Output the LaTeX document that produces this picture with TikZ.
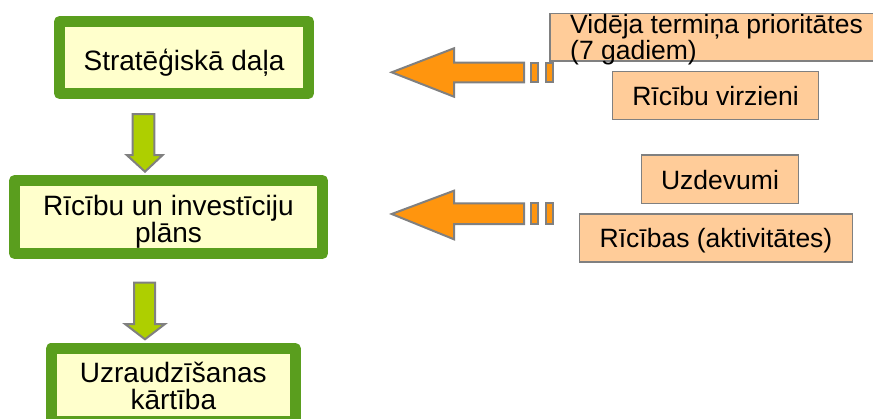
\documentclass[tikz,border=0pt]{standalone}
\usepackage{fontspec}
\setmainfont{Liberation Sans}
\definecolor{framegreen}{HTML}{5A9E1E}
\definecolor{paleyellow}{HTML}{FFFFCC}
\definecolor{salmon}{HTML}{FFCC99}
\definecolor{arroworange}{HTML}{FF950E}
\definecolor{arrowlime}{HTML}{AECF00}
\definecolor{edgegray}{HTML}{808080}
\tikzset{
  partbox/.style={draw=framegreen, fill=paleyellow, line width=11pt, line join=round,
    inner sep=0pt, align=center, font=\fontsize{28}{27}\selectfont},
  parttext/.style={inner sep=0pt, align=center, font=\fontsize{28}{27}\selectfont},
  itembox/.style={draw=edgegray, fill=salmon, line width=1.5pt, inner sep=0pt,
    text height=20pt, text depth=0pt, font=\fontsize{26.5}{27}\selectfont},
  blockarrow/.style={draw=edgegray, line width=2pt, line join=miter}
}
\begin{document}
\begin{tikzpicture}[x=1pt,y=-1pt]
            \useasboundingbox (0,0) rectangle (873,418);

            % Drawing the three parts
            \node [partbox, minimum width=249pt, minimum height=72pt, text height=25pt, text depth=0pt]
              (strat) at (184,57.5) {Stratēģiskā daļa};%
            \node [partbox, minimum width=308pt, minimum height=73pt] (plan) at (168.5,217) {};%
            \node [parttext] (plantext) at ([yshift=-5pt]plan.center) {Rīcību un investīciju\\plāns};%
            \node [partbox, minimum width=244pt, minimum height=73pt] (uzr) at (173.3,385) {};%
            \node [parttext] (uzrtext) at ([yshift=-1pt]uzr.center) {Uzraudzīšanas\\kārtība};%

            % Drawing arrow strat -> plan
            \draw [blockarrow, fill=arrowlime] (132.7,114) -- (154.3,114) -- (154.3,155) -- (162.7,155)
              -- (145,171.7) -- (126.7,155) -- (132.7,155) -- cycle;%

            % Drawing arrow plan -> uzr
            \draw [blockarrow, fill=arrowlime] (134,282.7) -- (155,282.7) -- (155,324) -- (165,324)
              -- (145,339.3) -- (125,324) -- (134,324) -- cycle;%

            % Drawing arrow to strat
            \draw [blockarrow, fill=arroworange] (391.7,72.3) -- (454,48.3) -- (454,62.7) -- (524,62.7)
              -- (524,82.3) -- (454,82.3) -- (454,96.7) -- cycle;%
            \draw [blockarrow, fill=arroworange] (531,62.7) rectangle (538.3,82.3);%
            \draw [blockarrow, fill=arroworange] (546,62.7) rectangle (553.3,82.3);%

            % Drawing arrow to plan
            \draw [blockarrow, fill=arroworange] (391.7,214) -- (454,190.7) -- (454,203.3) -- (524,203.3)
              -- (524,224) -- (454,224) -- (454,239.3) -- cycle;%
            \draw [blockarrow, fill=arroworange] (531,203.3) rectangle (538.3,224);%
            \draw [blockarrow, fill=arroworange] (546,203.3) rectangle (553.3,224);%

            % Drawing the items of strat
            \node [itembox, minimum width=330pt, minimum height=47.7pt] (prio) at (715,37.2) {};%
            \node [anchor=west, align=left, inner sep=0pt, font=\fontsize{26.5}{26.7}\selectfont]
              (priotext) at (570,39.7) {Vidēja termiņa prioritātes\\(7 gadiem)};%
            \node [itembox, minimum width=205.6pt, minimum height=47.6pt] (virz) at (715.5,95.5) {Rīcību virzieni};%

            % Drawing the items of plan
            \node [itembox, minimum width=156.6pt, minimum height=48.3pt] (uzd) at (720,179.2) {Uzdevumi};%
            \node [itembox, minimum width=273.4pt, minimum height=47.7pt] (akt) at (716,237.9) {Rīcības (aktivitātes)};%
\end{tikzpicture}
\end{document}
